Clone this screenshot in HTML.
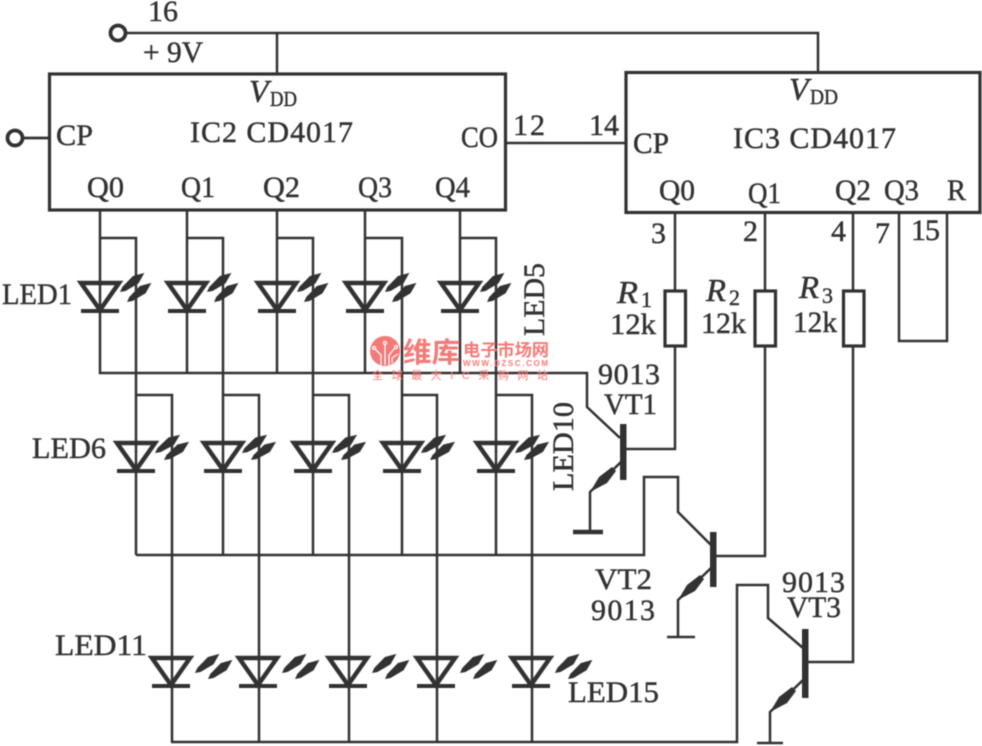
<!DOCTYPE html>
<html lang="en">
<head>
<meta charset="utf-8">
<title>CD4017 LED circuit</title>
<style>
html,body{margin:0;padding:0;background:#fff;width:982px;height:746px;overflow:hidden}
svg{display:block;position:absolute;left:0;top:0}
text{font-family:"Liberation Serif","Noto Serif CJK SC",serif;fill:#333;stroke:#333;stroke-width:.45px;font-size:30px}
.i{font-style:italic;font-size:32px}
.s{font-size:21px}
.m{font-size:22px}
.w{font-family:"Liberation Sans","Noto Sans CJK SC",sans-serif;fill:#f47a78;stroke:none;font-weight:bold}
</style>
</head>
<body>
<svg width="982" height="746" viewBox="0 0 982 746" xmlns="http://www.w3.org/2000/svg">
<defs>
<filter id="b" x="-2%" y="-2%" width="104%" height="104%"><feGaussianBlur stdDeviation="0.45"/></filter>
<path id="p" d="M0,0 L5,-2.600 L20,-4.600 L31,0 L20,4.600 L5,2.600Z" fill="#333"/>
<path id="a" d="M0,0 L9,-15 L22,-25 L26,-21 L17,-9 Z" fill="#333"/>
<g id="tri">
<path d="M-19,0 H19 L0,27Z" fill="none" stroke="#333" stroke-width="4.500" stroke-linejoin="miter"/>
<path d="M-19,28 H19" stroke="#333" stroke-width="4" fill="none"/>
</g>
<g id="l1"><use href="#tri"/><use href="#p" transform="translate(20,9) rotate(-38)"/><use href="#p" transform="translate(27,19) rotate(-38)"/></g>
<g id="l2"><use href="#tri"/><use href="#p" transform="translate(19,10) rotate(-36)"/><use href="#p" transform="translate(28,17) rotate(-36)"/></g>
<g id="l3"><use href="#tri"/><use href="#p" transform="translate(24,15) rotate(-38)"/><use href="#p" transform="translate(37,21) rotate(-38)"/></g>
</defs>

<g filter="url(#b)">
<g fill="none" stroke="#333" stroke-width="2.500">
<!-- supply -->
<circle cx="118" cy="33" r="7.500" stroke-width="3.800"/>
<path d="M127,33 H818 V72"/>
<path d="M277,33 V74"/>
<circle cx="15" cy="138" r="7.500" stroke-width="3.800"/>
<path d="M24,138 H49" stroke-width="2.800"/>
<!-- ICs -->
<rect x="49.500" y="74" width="456" height="136" stroke-width="3.200"/>
<rect x="626" y="72.500" width="354" height="140" stroke-width="3.200"/>
<path d="M506,143 H626"/>
<!-- Row 1 -->
<path d="M100,210 V373 H587 V407 L620,438"/>
<path d="M187,210 V373 M277,210 V373 M365,210 V373 M460,210 V373"/>
<path d="M100,238 H136 V555 M187,238 H223 V555 M277,238 H313 V555 M365,238 H402 V555 M460,238 H496 V555"/>
<!-- Row 2 -->
<path d="M136,555 H644 V477 H678 V512 L711,545"/>
<path d="M136,395 H172 V742 M223,395 H259 V742 M313,395 H349 V742 M402,395 H437 V742 M496,395 H532 V742"/>
<!-- Bottom bus -->
<path d="M171,742 H737 V585 H768 V618 L803,648"/>
<!-- IC3 outputs -->
<path d="M675,213 V290 M675,347 V449 H625"/>
<path d="M765,213 V290 M765,347 V556 H715"/>
<path d="M853,213 V290 M853,347 V662 H807"/>
<path d="M899,213 V341 H947 V213"/>
<!-- Resistors -->
<rect x="665" y="291" width="20.500" height="55" stroke-width="3.200"/>
<rect x="755" y="291" width="20.500" height="55" stroke-width="3.200"/>
<rect x="843.500" y="291" width="20.500" height="55" stroke-width="3.200"/>
<!-- Transistor emitters -->
<path d="M621,462 L590,492 V532"/>
<path d="M711,568 L678,600 V637 M667,637 H695"/>
<path d="M803,680 L770,712 V743 M757,743 H783"/>
<path d="M573,532 H603" stroke-width="4.500"/>
</g>
<!-- Transistor bases -->
<rect x="620" y="424" width="6.500" height="56" fill="#333"/>
<rect x="710" y="532" width="6.500" height="55" fill="#333"/>
<rect x="802" y="629" width="6.500" height="69" fill="#333"/>
<!-- Emitter arrows -->
<use href="#a" x="590" y="492"/>
<use href="#a" x="678" y="600"/>
<use href="#a" x="770" y="712"/>

<!-- LEDs -->
<use href="#l1" x="100" y="283"/>
<use href="#l1" x="187" y="283"/>
<use href="#l1" x="277" y="283"/>
<use href="#l1" x="365" y="283"/>
<use href="#l1" x="460" y="283"/>
<use href="#l2" x="136" y="443"/>
<use href="#l2" x="223" y="443"/>
<use href="#l2" x="313" y="443"/>
<use href="#l2" x="402" y="443"/>
<use href="#l2" x="496" y="443"/>
<use href="#l3" x="171" y="658"/>
<use href="#l3" x="258" y="658"/>
<use href="#l3" x="348" y="658"/>
<use href="#l3" x="436" y="658"/>
<use href="#l3" x="531" y="658"/>

<!-- Labels -->
<text x="148" y="21" textLength="30" lengthAdjust="spacingAndGlyphs">16</text>
<text x="143" y="62" textLength="60" lengthAdjust="spacingAndGlyphs">+ 9V</text>
<text class="i" x="249" y="102">V</text>
<text class="s" x="270" y="106" textLength="27" lengthAdjust="spacingAndGlyphs">DD</text>
<text x="56" y="145" textLength="37" lengthAdjust="spacingAndGlyphs">CP</text>
<text x="190" y="142" textLength="163" lengthAdjust="spacing">IC2 CD4017</text>
<text x="461" y="147" textLength="37" lengthAdjust="spacingAndGlyphs">CO</text>
<text x="513" y="135" textLength="32" lengthAdjust="spacing">12</text>
<text x="589" y="135" textLength="30" lengthAdjust="spacing">14</text>
<text x="87" y="197" textLength="37" lengthAdjust="spacingAndGlyphs">Q0</text>
<text x="181" y="197" textLength="34" lengthAdjust="spacingAndGlyphs">Q1</text>
<text x="263" y="197" textLength="37" lengthAdjust="spacingAndGlyphs">Q2</text>
<text x="358" y="197" textLength="34" lengthAdjust="spacingAndGlyphs">Q3</text>
<text x="435" y="197" textLength="35" lengthAdjust="spacingAndGlyphs">Q4</text>

<text class="i" x="789" y="100">V</text>
<text class="s" x="810" y="104" textLength="28" lengthAdjust="spacingAndGlyphs">DD</text>
<text x="633" y="153" textLength="36" lengthAdjust="spacingAndGlyphs">CP</text>
<text x="733" y="148" textLength="163" lengthAdjust="spacing">IC3 CD4017</text>
<text x="659" y="200" textLength="36" lengthAdjust="spacingAndGlyphs">Q0</text>
<text x="748" y="203" textLength="33" lengthAdjust="spacingAndGlyphs">Q1</text>
<text x="835" y="200" textLength="36" lengthAdjust="spacingAndGlyphs">Q2</text>
<text x="884" y="200" textLength="35" lengthAdjust="spacingAndGlyphs">Q3</text>
<text x="947" y="200" textLength="19" lengthAdjust="spacingAndGlyphs">R</text>
<text x="651" y="243">3</text>
<text x="743" y="241">2</text>
<text x="831" y="241">4</text>
<text x="875" y="243">7</text>
<text x="911" y="240" textLength="29" lengthAdjust="spacing">15</text>

<text class="i" x="617" y="303" textLength="21" lengthAdjust="spacingAndGlyphs">R</text>
<text class="m" x="641" y="307">1</text>
<text x="610" y="334" textLength="46" lengthAdjust="spacingAndGlyphs">12k</text>
<text class="i" x="706" y="301" textLength="20" lengthAdjust="spacingAndGlyphs">R</text>
<text class="m" x="729" y="305">2</text>
<text x="701" y="333" textLength="45" lengthAdjust="spacingAndGlyphs">12k</text>
<text class="i" x="799" y="298" textLength="20" lengthAdjust="spacingAndGlyphs">R</text>
<text class="m" x="822" y="303">3</text>
<text x="793" y="332" textLength="44" lengthAdjust="spacingAndGlyphs">12k</text>

<text x="2" y="304" textLength="70" lengthAdjust="spacingAndGlyphs">LED1</text>
<text x="32" y="458" textLength="74" lengthAdjust="spacingAndGlyphs">LED6</text>
<text x="55" y="655" textLength="92" lengthAdjust="spacingAndGlyphs">LED11</text>
<text x="568" y="702" textLength="91" lengthAdjust="spacingAndGlyphs">LED15</text>
<text transform="translate(544,336) rotate(-90)" textLength="73" lengthAdjust="spacingAndGlyphs">LED5</text>
<text transform="translate(573,491) rotate(-90)" textLength="89" lengthAdjust="spacingAndGlyphs">LED10</text>

<text x="598" y="384" textLength="62" lengthAdjust="spacing">9013</text>
<text x="604" y="414" textLength="53" lengthAdjust="spacingAndGlyphs">VT1</text>
<text x="595" y="589" textLength="57" lengthAdjust="spacingAndGlyphs">VT2</text>
<text x="591" y="620" textLength="64" lengthAdjust="spacing">9013</text>
<text x="782" y="592" textLength="63" lengthAdjust="spacing">9013</text>
<text x="787" y="617" textLength="54" lengthAdjust="spacingAndGlyphs">VT3</text>

<!-- Watermark -->
<circle cx="385" cy="351" r="15" fill="#f47a78"/>
<g fill="none" stroke="#fff" stroke-width="1">
<path d="M385,365 V345 M381,365 V355 L375,349 M389,365 V355 L395,348 M392,363 V358 L398,354"/>
<circle cx="385" cy="343" r="1.500"/><circle cx="374" cy="348" r="1.500"/><circle cx="396" cy="347" r="1.500"/>
</g>
<text class="w" x="403" y="362" style="font-size:28px" textLength="57" lengthAdjust="spacingAndGlyphs">维库</text>
<text class="w" x="463" y="356" style="font-size:17px" textLength="86" lengthAdjust="spacingAndGlyphs">电子市场网</text>
<text class="w" x="463" y="366" style="font-size:8px" textLength="85" lengthAdjust="spacing">WWW.DZSC.COM</text>
<text class="w" x="372" y="379" style="font-size:11px;font-weight:normal" textLength="176" lengthAdjust="spacing">全球最大IC采购网站</text>
</g>
</svg>
</body>
</html>
